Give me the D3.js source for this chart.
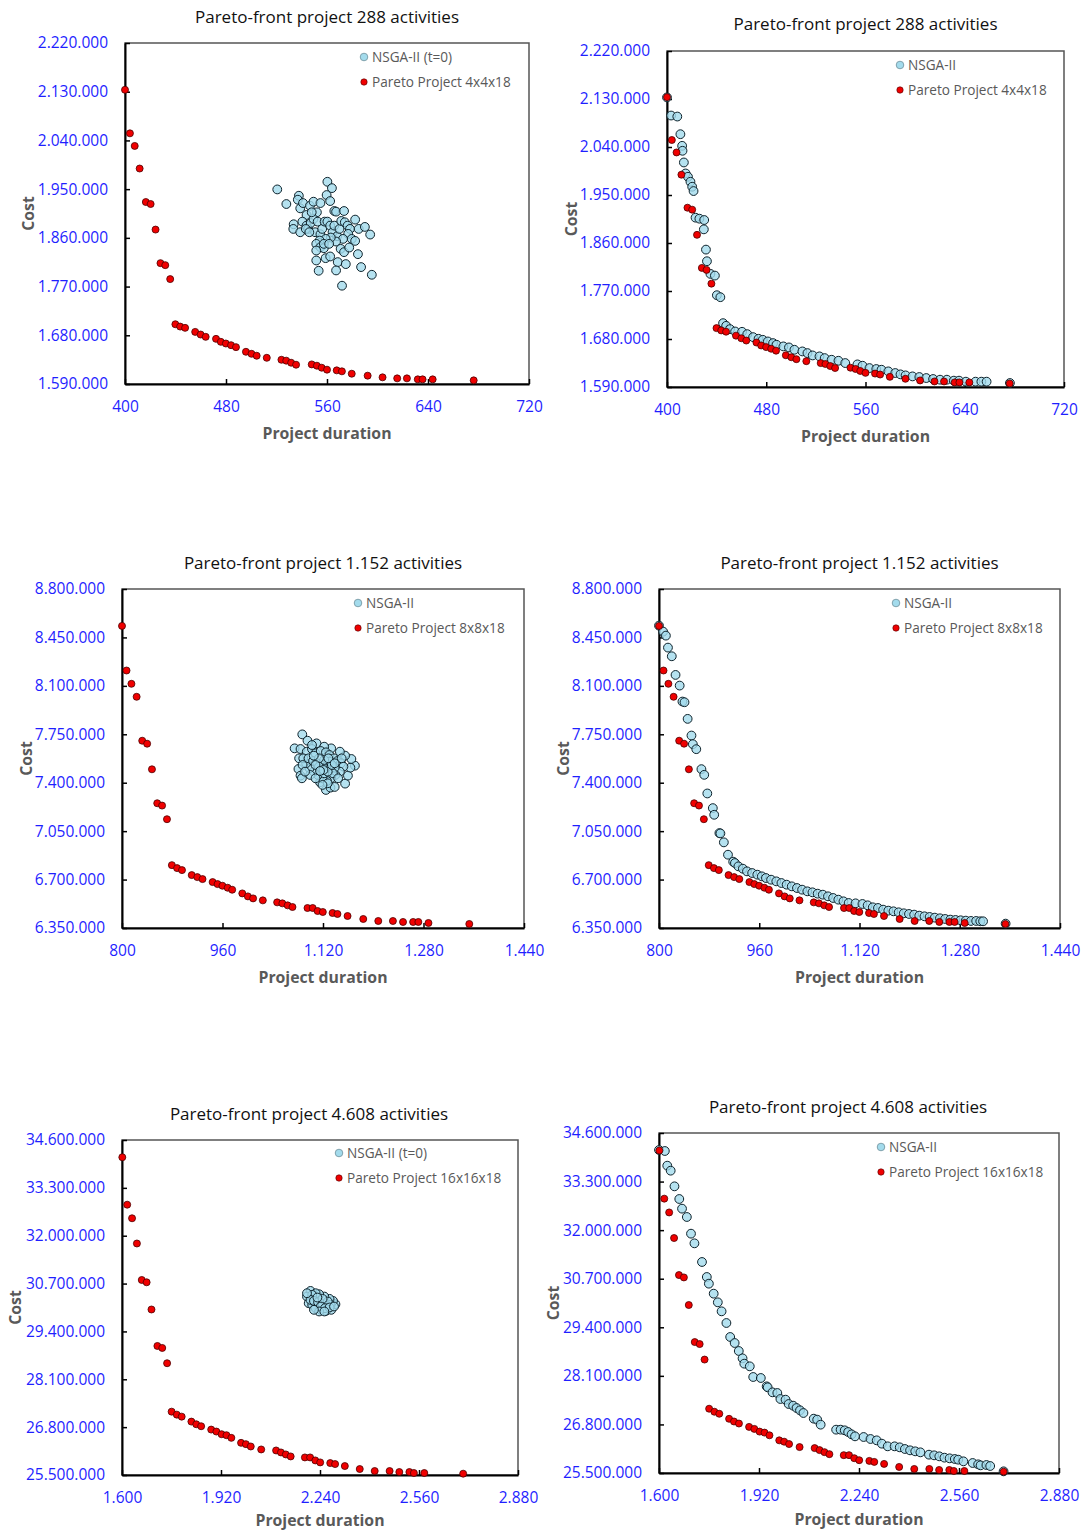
<!DOCTYPE html>
<html>
<head>
<meta charset="utf-8">
<script src="https://cdn.jsdelivr.net/npm/d3@7"></script>
<style>
  body { margin: 0; background: #fff; }
  svg { display: block; font-family: "Open Sans", "Noto Sans", sans-serif; }
  .tick text { fill: #1f1fff; font-size: 15.5px; }
  .domain { stroke: #000; stroke-width: 2; }
  .tick line { stroke: #000; stroke-width: 1.5; }
</style>
</head>
<body>
<div id="chart"></div>
<script>
// ---- data ----
// [project duration, cost]
const pareto4x4 = [
  [400,2133500],[403.9,2053100],[407.7,2029800],[411.6,1988100],[416.5,1926200],[420.3,1922500],
  [424.2,1875300],[428.1,1813300],[431.9,1809600],[435.8,1783800],[439.9,1700400],[443.7,1696100],
  [447.6,1693700],[455.6,1686300],[459.9,1681400],[463.9,1677100],[472.1,1673400],[475.9,1667900],
  [479.9,1664800],[484.0,1661700],[487.9,1658100],[495.8,1649500],[500.2,1645800],[504.3,1642200],
  [512.3,1638400],[523.9,1634800],[527.7,1633100],[531.6,1629300],[535.5,1625600],[547.9,1626200],
  [552.0,1623800],[555.8,1620100],[560.0,1616500],[567.7,1615200],[571.8,1613400],[579.6,1609000],
  [592.2,1605400],[604.0,1602300],[615.6,1600400],[623.3,1600400],[631.9,1598600],[635.7,1598600],
  [643.7,1598600],[676.2,1596700]
];
const nsgaStart288 = [
  [520.6,1949500],[527.8,1922500],[537.7,1937800],[536.9,1930500],[538.8,1914500],[541.0,1924300],
  [543.8,1902300],[546.5,1919400],[549.3,1926800],[552.0,1907200],[554.8,1924300],[560.3,1963600],
  [563.9,1951900],[559.7,1939100],[562.5,1928000],[565.8,1909600],[567.2,1908400],[573.5,1909600],
  [533.6,1885100],[533.3,1876500],[538.8,1870400],[540.5,1890000],[543.8,1882600],[545.1,1876500],
  [547.1,1887500],[549.3,1894900],[550.6,1870400],[552.6,1890000],[554.8,1866700],[556.2,1876500],
  [558.1,1890000],[560.3,1890000],[562.5,1882600],[564.4,1870400],[565.8,1882600],[568.0,1863000],
  [569.9,1876500],[571.3,1891200],[574.1,1888800],[576.3,1882600],[578.2,1876500],[582.3,1893700],
  [585.1,1876500],[590.0,1880200],[594.2,1866100],[576.8,1867300],[579.6,1858100],[572.7,1858100],
  [567.2,1853200],[563.0,1860600],[558.9,1858100],[554.2,1855000],[551.5,1848900],[554.8,1842800],
  [557.5,1840900],[551.5,1836600],[570.8,1839700],[573.5,1833600],[577.6,1842100],[582.3,1854400],
  [584.5,1829900],[587.0,1806000],[595.5,1791800],[551.5,1818200],[553.4,1799200],[558.9,1822500],
  [562.5,1825600],[568.5,1815200],[567.2,1799800],[574.9,1811500],[571.9,1771600],[543.2,1876500],
  [546.0,1870400],[547.9,1907200],[557.5,1848900],[561.7,1848900]
];
const nsgaFinal288 = [
  [400,2133000],[403.3,2099000],[408.3,2097100],[410.8,2064000],[412.2,2042200],[412.5,2032900],
  [413.6,2011000],[415.0,1990400],[416.9,1984200],[418.9,1974800],[420.3,1965500],[421.4,1957400],
  [423.0,1907500],[426.1,1905600],[430.0,1903100],[429.7,1885600],[431.4,1847600],[432.2,1825800],
  [435.0,1802100],[438.6,1798900],[440.2,1762100],[443.0,1758400],[445.2,1709700],[447.7,1704700],
  [450.8,1698500],[454.9,1694100],[460.5,1693500],[464.7,1689100],[469.4,1683500],[473.8,1680400],
  [477.2,1678500],[481.3,1675400],[485.5,1672300],[488.3,1669200],[493.8,1666100],[498.3,1664200],
  [502.7,1659800],[509.1,1656700],[513.2,1653600],[517.4,1649200],[522.9,1647400],[527.1,1644200],
  [532.7,1641100],[538.2,1639200],[543.7,1634900],[553.5,1632400],[557.6,1629900],[563.2,1625500],
  [568.7,1623700],[572.9,1622400],[578.4,1619300],[584.0,1616200],[588.2,1613700],[592.3,1611800],
  [597.9,1609900],[603.4,1608700],[609.0,1606800],[614.5,1605000],[620.1,1603700],[625.6,1603700],
  [631.2,1601900],[635.4,1601900],[640.9,1600000],[648.7,1600000],[653.4,1600000],[657.6,1600000],
  [676.4,1597500]
];

const pareto8x8 = [
  [800,8533100],[807.2,8210900],[815.0,8114800],[823.3,8021000],[832.2,7703600],[840.0,7682000],
  [847.7,7496900],[856.1,7251600],[863.8,7234800],[871.6,7136200],[879.4,6804400],[887.7,6782800],
  [895.5,6768300],[911.0,6732300],[919.9,6717900],[928.2,6703500],[944.3,6681800],[952.1,6667400],
  [959.9,6655400],[968.2,6641000],[975.4,6626600],[991.5,6600100],[1000.4,6578500],[1008.7,6564100],
  [1024.2,6549700],[1047.0,6535200],[1055.3,6528000],[1063.7,6513600],[1071.4,6501600],[1095.3,6494400],
  [1103.6,6494400],[1111.4,6472800],[1119.7,6465600],[1135.2,6458400],[1143.0,6451200],[1159.1,6436700],
  [1184.1,6415100],[1208.0,6400700],[1231.3,6400700],[1247.4,6393500],[1263.5,6393500],[1271.8,6393500],
  [1287.9,6386300],[1352.9,6379100]
];
const nsgaStart1152 = [
  [1087.0,7749300],[1095.3,7703600],[1109.7,7684400],[1074.8,7648300],[1084.2,7643500],[1082.0,7576200],
  [1080.9,7499300],[1084.2,7451200],[1086.4,7432000],[1115.3,7403100],[1124.7,7347800],[1131.9,7364600],
  [1138.6,7369400],[1155.2,7393500],[1159.7,7451200],[1170.8,7523300],[1163.6,7508900],[1165.2,7571400],
  [1155.2,7595500],[1146.9,7624300],[1133.0,7648300],[1121.9,7660400],[1094.2,7624300],[1102.5,7643500],
  [1108.1,7612300],[1116.4,7629100],[1124.7,7619500],[1130.3,7600300],[1137.5,7576200],[1143.0,7557000],
  [1148.6,7540200],[1152.5,7516100],[1146.9,7480000],[1139.7,7456000],[1133.0,7432000],[1126.4,7412700],
  [1119.2,7432000],[1111.9,7456000],[1105.3,7480000],[1098.6,7504100],[1093.1,7540200],[1088.6,7576200],
  [1097.0,7576200],[1104.2,7557000],[1110.8,7540200],[1117.5,7528100],[1124.7,7516100],[1131.9,7504100],
  [1138.6,7508900],[1130.3,7552200],[1121.9,7564200],[1113.6,7576200],[1105.3,7595500],[1099.7,7456000],
  [1108.1,7432000],[1121.9,7468000],[1135.8,7468000],[1144.1,7432000],[1149.7,7576200],[1087.5,7528100],
  [1091.4,7480000],[1102.5,7672400],[1127.5,7395900],[1119.2,7383900],[1113.6,7516100],[1108.1,7528100],
  [1127.5,7480000],[1134.1,7528100],[1120.8,7492100],[1115.3,7484900],[1128.6,7576200],[1138.6,7540200]
];
const nsgaFinal1152 = [
  [800,8535300],[806.6,8491900],[811.0,8463000],[814.3,8376400],[820.4,8313800],[826.4,8179000],
  [833.0,8102000],[837.4,7986500],[840.7,7981700],[845.7,7861400],[851.8,7741000],[854.0,7678500],
  [859.5,7642400],[867.7,7498000],[872.2,7457000],[877.1,7322300],[885.9,7216400],[888.1,7168300],
  [896.4,7035900],[898.0,7033500],[903.5,6969000],[910.1,6879700],[918.4,6829200],[921.2,6819500],
  [926.7,6795500],[933.8,6778600],[940.4,6759400],[948.7,6747300],[956.9,6735300],[964.1,6723300],
  [970.7,6711200],[978.9,6699200],[987.2,6687200],[995.4,6675100],[1003.7,6663100],[1011.9,6651100],
  [1020.2,6639000],[1028.4,6627000],[1036.7,6615000],[1044.9,6607800],[1053.2,6598100],[1061.4,6590900],
  [1069.7,6578900],[1077.9,6566900],[1086.2,6554800],[1094.4,6542800],[1102.7,6530800],[1113.7,6528300],
  [1124.7,6523500],[1133.0,6513900],[1141.2,6499500],[1149.5,6494700],[1157.7,6482600],[1166.0,6475400],
  [1174.2,6470600],[1182.5,6463400],[1190.7,6456200],[1199.0,6451400],[1207.2,6446600],[1215.4,6439300],
  [1223.7,6434500],[1231.9,6429700],[1240.2,6424900],[1248.4,6420100],[1256.7,6415300],[1264.9,6410500],
  [1273.2,6408100],[1281.4,6405700],[1289.7,6403300],[1297.9,6400900],[1306.2,6400900],[1312.8,6398500],
  [1317.2,6398500],[1353.2,6381600]
];

const pareto16x16 = [
  [1601,34131500],[1616.8,32843000],[1632.5,32473600],[1648.2,31788900],[1663.9,30797800],[1679.6,30734700],
  [1695.3,29995900],[1714.4,29004800],[1730.1,28950700],[1745.8,28536300],[1760.4,27220800],[1777.2,27139700],
  [1792.9,27085600],[1824.3,26950500],[1840.0,26878400],[1855.8,26824300],[1888.3,26734200],[1905.1,26680200],
  [1921.9,26608100],[1937.7,26581000],[1953.4,26508900],[1984.8,26373800],[2000.5,26337800],[2016.2,26274700],
  [2049.9,26193600],[2098.1,26166600],[2113.8,26112500],[2129.5,26058400],[2145.2,26004400],[2191.2,25977300],
  [2208.0,25977300],[2224.8,25896200],[2240.6,25842200],[2273.1,25824200],[2288.8,25797100],[2320.3,25743100],
  [2368.5,25662000],[2416.8,25607900],[2465.0,25607900],[2496.4,25580900],[2528.9,25580900],[2543.5,25553800],
  [2577.1,25553800],[2702.8,25535800]
];
const nsgaStart4608 = [
  [2209.2,30500400],[2197.9,30347300],[2203.5,30167100],[2214.8,30122000],[2226.0,30031900],[2242.8,29986900],
  [2259.6,29959800],[2276.5,29986900],[2289.9,30140000],[2282.1,30230100],[2270.9,30284200],[2254.0,30347300],
  [2237.2,30410300],[2226.0,30437400],[2214.8,30392300],[2209.2,30257200],[2220.4,30230100],[2233.8,30194100],
  [2248.4,30140000],[2263.0,30104000],[2274.2,30122000],[2265.2,30212100],[2248.4,30284200],[2231.6,30320200],
  [2242.8,30077000],[2256.3,30031900],[2270.9,30050000],[2237.2,29941800],[2254.0,29941800],[2197.9,30437400],
  [2220.4,29986900],[2285.4,30077000]
];
const nsgaFinal4608 = [
  [1600,34145000],[1618.7,34118200],[1626.4,33725700],[1637.4,33591900],[1649.5,33172500],[1664.9,32833500],
  [1673.7,32574800],[1689.1,32351800],[1702.4,31905700],[1713.4,31647000],[1737.6,31147400],[1753.0,30745900],
  [1759.6,30567500],[1775.0,30299800],[1788.2,30067900],[1800.3,29827000],[1815.7,29514700],[1827.8,29140000],
  [1842.1,28979400],[1855.3,28765300],[1867.4,28569100],[1872.9,28426300],[1890.5,28354900],[1901.5,28069400],
  [1925.8,28042700],[1944.5,27819600],[1947.8,27792800],[1963.2,27659000],[1978.6,27641200],[1988.5,27480600],
  [2005.0,27462700],[2014.9,27346700],[2029.2,27302100],[2040.2,27239700],[2051.2,27177200],[2062.2,27105800],
  [2095.2,26954200],[2106.2,26927400],[2117.3,26793600],[2166.8,26659800],[2181.1,26659800],[2194.3,26641900],
  [2205.3,26597300],[2216.3,26534900],[2227.3,26481300],[2254.8,26463500],[2276.8,26410000],[2296.6,26374300],
  [2313.1,26285100],[2331.9,26213700],[2353.9,26213700],[2370.4,26186900],[2386.9,26142300],[2403.4,26106600],
  [2419.9,26079900],[2436.4,26053100],[2463.9,25990600],[2480.4,25972800],[2496.9,25946000],[2513.4,25910300],
  [2530.0,25892500],[2546.5,25874600],[2557.5,25856800],[2574.0,25812200],[2603.7,25767600],[2621.3,25731900],
  [2629.0,25705100],[2647.7,25714000],[2659.8,25687300],[2702.7,25544500]
];

// axis ticks
const xTicks288 = [400, 480, 560, 640, 720];
const yTicks288 = [1590000, 1680000, 1770000, 1860000, 1950000, 2040000, 2130000, 2220000];
const xTicks1152 = [800, 960, 1120, 1280, 1440];
const yTicks1152 = [6350000, 6700000, 7050000, 7400000, 7750000, 8100000, 8450000, 8800000];
const xTicks4608 = [1600, 1920, 2240, 2560, 2880];
const yTicks4608 = [25500000, 26800000, 28100000, 29400000, 30700000, 32000000, 33300000, 34600000];

const titles = [
  "Pareto-front project 288 activities", "Pareto-front project 288 activities",
  "Pareto-front project 1.152 activities", "Pareto-front project 1.152 activities",
  "Pareto-front project 4.608 activities", "Pareto-front project 4.608 activities"
];
const nsgaNames = ["NSGA-II (t=0)", "NSGA-II", "NSGA-II", "NSGA-II", "NSGA-II (t=0)", "NSGA-II"];
const paretoNames = ["Pareto Project 4x4x18", "Pareto Project 4x4x18",
  "Pareto Project 8x8x18", "Pareto Project 8x8x18",
  "Pareto Project 16x16x18", "Pareto Project 16x16x18"];

// ---- layout ----
const W = 1085, H = 1533;
const panels = [
  {x: 125, y: 43, w: 404, h: 341, tx: 0, ty: 17, lx: 239, ly: 14, cx: 97, xl: 55, nsga: nsgaStart288, pareto: pareto4x4, xt: xTicks288, yt: yTicks288},
  {x: 667, y: 51, w: 397, h: 336, tx: 0, ty: 24, lx: 233, ly: 14, cx: 96, xl: 55, nsga: nsgaFinal288, pareto: pareto4x4, xt: xTicks288, yt: yTicks288},
  {x: 122, y: 589, w: 402, h: 339, tx: 0, ty: 563, lx: 236, ly: 14, cx: 96, xl: 55, nsga: nsgaStart1152, pareto: pareto8x8, xt: xTicks1152, yt: yTicks1152},
  {x: 659, y: 589, w: 401, h: 339, tx: 0, ty: 563, lx: 237, ly: 14, cx: 96, xl: 55, nsga: nsgaFinal1152, pareto: pareto8x8, xt: xTicks1152, yt: yTicks1152},
  {x: 122, y: 1140, w: 396, h: 335, tx: -11, ty: 1114, lx: 217, ly: 13, cx: 107, xl: 51, nsga: nsgaStart4608, pareto: pareto16x16, xt: xTicks4608, yt: yTicks4608},
  {x: 659, y: 1133, w: 400, h: 340, tx: -11, ty: 1107, lx: 222, ly: 14, cx: 106, xl: 52, nsga: nsgaFinal4608, pareto: pareto16x16, xt: xTicks4608, yt: yTicks4608}
];

const locale = d3.formatLocale({decimal: ",", thousands: ".", grouping: [3], currency: ["", ""]});
const fmt = locale.format(",d");

const svg = d3.select("#chart")
    .append("svg")
    .attr("width", W)
    .attr("height", H);

svg.append("rect").attr("width", W).attr("height", H).attr("fill", "#fff");

panels.forEach(function (p, i) {
    const g = svg.append("g").attr("transform", `translate(${p.x}, ${p.y})`);

    const x = d3.scaleLinear()
        .domain([p.xt[0], p.xt[p.xt.length - 1]])
        .range([0, p.w]);
    const y = d3.scaleLinear()
        .domain([p.yt[0], p.yt[p.yt.length - 1]])
        .range([p.h, 0]);

    // plot area border (top/right)
    g.append("rect")
        .attr("width", p.w)
        .attr("height", p.h)
        .attr("fill", "none")
        .attr("stroke", "#555")
        .attr("stroke-width", 1.5);

    // axes with inside ticks
    g.append("g")
        .attr("transform", `translate(0, ${p.h})`)
        .call(d3.axisBottom(x).tickValues(p.xt).tickFormat(fmt).tickSizeInner(-5).tickSizeOuter(0).tickPadding(17));

    g.append("g")
        .call(d3.axisLeft(y).tickValues(p.yt).tickFormat(fmt).tickSizeInner(-5).tickSizeOuter(0).tickPadding(17));

    g.selectAll(".tick text").attr("font-family", "Open Sans, sans-serif");

    // NSGA-II points first, Pareto points on top
    g.append("g")
        .selectAll("circle")
        .data(p.nsga)
        .join("circle")
        .attr("cx", d => x(d[0]))
        .attr("cy", d => y(d[1]))
        .attr("r", 4.4)
        .attr("fill", "#a3dbec")
        .attr("fill-opacity", 0.8)
        .attr("stroke", "#0e222b")
        .attr("stroke-width", 1);

    g.append("g")
        .selectAll("circle")
        .data(p.pareto)
        .join("circle")
        .attr("cx", d => x(d[0]))
        .attr("cy", d => y(d[1]))
        .attr("r", 3.5)
        .attr("fill", "#f00000")
        .attr("stroke", "#4a0000")
        .attr("stroke-width", 0.8);

    // legend
    const leg = g.append("g").attr("transform", `translate(${p.lx}, ${p.ly})`);
    leg.append("circle").attr("r", 3.8).attr("fill", "#a3dbec").attr("stroke", "#6f8f9a").attr("stroke-width", 0.8);
    leg.append("text").attr("x", 8).attr("y", 5).text(nsgaNames[i])
        .attr("font-size", "13.6px").attr("fill", "#595959");
    leg.append("circle").attr("cy", 25).attr("r", 3.2).attr("fill", "#f00000").attr("stroke", "#4a0000").attr("stroke-width", 0.6);
    leg.append("text").attr("x", 8).attr("y", 30).text(paretoNames[i])
        .attr("font-size", "13.6px").attr("fill", "#595959");

    // title
    svg.append("text")
        .attr("x", p.x + p.w / 2 + p.tx)
        .attr("y", p.ty + 6)
        .attr("text-anchor", "middle")
        .attr("font-size", "17px")
        .attr("fill", "#111")
        .text(titles[i]);

    // axis titles
    g.append("text")
        .attr("x", p.w / 2)
        .attr("y", p.h + p.xl)
        .attr("text-anchor", "middle")
        .attr("font-size", "15.8px")
        .attr("font-weight", "bold")
        .attr("fill", "#595959")
        .text("Project duration");

    g.append("text")
        .attr("transform", `translate(${-p.cx + 6}, ${p.h / 2}) rotate(-90)`)
        .attr("text-anchor", "middle")
        .attr("font-size", "15.8px")
        .attr("font-weight", "bold")
        .attr("fill", "#595959")
        .text("Cost");
});
</script>
</body>
</html>
